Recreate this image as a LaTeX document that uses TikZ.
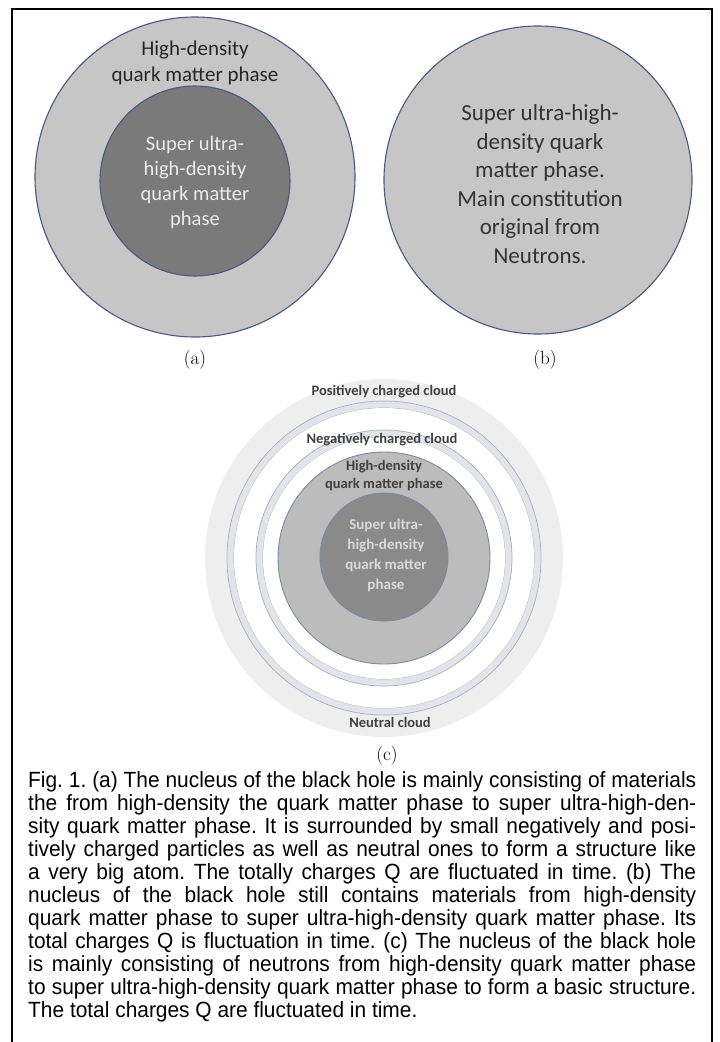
\documentclass[tikz,border=0pt]{standalone}
\usepackage{fontspec}
\newfontfamily\calibri{Carlito}
\newfontfamily\capfont[FakeStretch=0.95]{Liberation Sans}
\definecolor{ringblue}{HTML}{4A5882}
\definecolor{lightfill}{HTML}{C6C6C6}
\definecolor{darkfill}{HTML}{7A7A7A}
\definecolor{cloudfill}{HTML}{EEEEEE}
\definecolor{bandfill}{HTML}{E2E4E9}
\definecolor{bandline}{HTML}{A9AEBC}
\definecolor{midfill}{HTML}{BCBCBC}
\definecolor{coredark}{HTML}{8A8A8A}
\definecolor{softblue}{HTML}{7F89A3}
\begin{document}
\begin{tikzpicture}[x=1pt,y=-1pt,
  phase/.style={draw=ringblue,line width=1.1pt},
  band/.style={draw=bandline,line width=0.7pt,fill=bandfill,even odd rule},
  intext/.style={align=center,inner sep=0pt},
  sublabel/.style={inner sep=0pt,font=\fontsize{19}{22}\selectfont},
  cloudtext/.style={inner sep=0pt,text=black!75,font=\calibri\bfseries\fontsize{14.5}{18}\selectfont,align=center}]
\useasboundingbox (0,0) rectangle (720,1042);
\fill[white] (0,0) rectangle (720,1042);
% outer frame (open at the bottom edge)
\draw[line width=2pt] (12,1060) -- (12,9) -- (712,9) -- (712,1060);

% (a) two-phase core
\fill[lightfill,phase] (195,177) circle[radius=160];
\fill[darkfill,phase] (195,181) circle[radius=95];
\node[intext,text=black!85,font=\calibri\fontsize{21}{26}\selectfont] (aout) at (195,63) {High-density\\quark matter phase};
\node[intext,text=white!92!black,font=\calibri\fontsize{20.5}{25}\selectfont] (ain) at (195,183) {Super ultra-\\high-density\\quark matter\\phase};
\node[sublabel] (la) at (195,360) {(a)};

% (b) neutron core
\fill[lightfill,phase] (538,180) circle[radius=154];
\node[intext,text=black!80,font=\calibri\fontsize{23}{28.5}\selectfont] (bin) at (540,184) {Super ultra-high-\\density quark\\matter phase.\\Main constitution\\original from\\Neutrons.};
\node[sublabel] (lb) at (545,360) {(b)};

% (c) charged clouds around the core
\fill[cloudfill] (384,558) circle[radius=179];
\fill[white!60!cloudfill] (384,558) circle[radius=157];
\draw[band] (384,558) circle[radius=157] (384,558) circle[radius=150];
\fill[white] (384,558) circle[radius=150];
\draw[band] (384,558) circle[radius=128] (384,558) circle[radius=121];
\fill[white] (384,558) circle[radius=121];
\fill[midfill,draw=softblue,line width=0.9pt] (384,558) circle[radius=106];
\fill[coredark,draw=softblue,line width=0.9pt] (384,557) circle[radius=64];
\node[cloudtext] (pos) at (384,392) {Positively charged cloud};
\node[cloudtext] (neg) at (382,440) {Negatively charged cloud};
\node[cloudtext] (hd) at (384,476) {High-density\\quark matter phase};
\node[cloudtext,text=white!85!black,font=\calibri\bfseries\fontsize{15}{20}\selectfont] (core) at (386,555) {Super ultra-\\high-density\\quark matter\\phase};
\node[cloudtext] (neu) at (390,722) {Neutral cloud};
\node[sublabel] (lc) at (387,756) {(c)};

% caption, set line by line as printed
\node[anchor=north west,inner sep=0pt,align=left,
      font=\capfont\fontsize{22}{23}\selectfont\frenchspacing] (cap) at (28,771) {%
\hbox to 668pt{Fig. 1. (a) The nucleus of the black hole is mainly consisting of materials}\\
\hbox to 668pt{the from high-density the quark matter phase to super ultra-high-den-}\\
\hbox to 668pt{sity quark matter phase. It is surrounded by small negatively and posi-}\\
\hbox to 668pt{tively charged particles as well as neutral ones to form a structure like}\\
\hbox to 668pt{a very big atom. The totally charges Q are fluctuated in time. (b) The}\\
\hbox to 668pt{nucleus of the black hole still contains materials from high-density}\\
\hbox to 668pt{quark matter phase to super ultra-high-density quark matter phase. Its}\\
\hbox to 668pt{total charges Q is fluctuation in time. (c) The nucleus of the black hole}\\
\hbox to 668pt{is mainly consisting of neutrons from high-density quark matter phase}\\
\hbox to 668pt{to super ultra-high-density quark matter phase to form a basic structure.}\\
The total charges Q are fluctuated in time.};
\end{tikzpicture}
\end{document}
